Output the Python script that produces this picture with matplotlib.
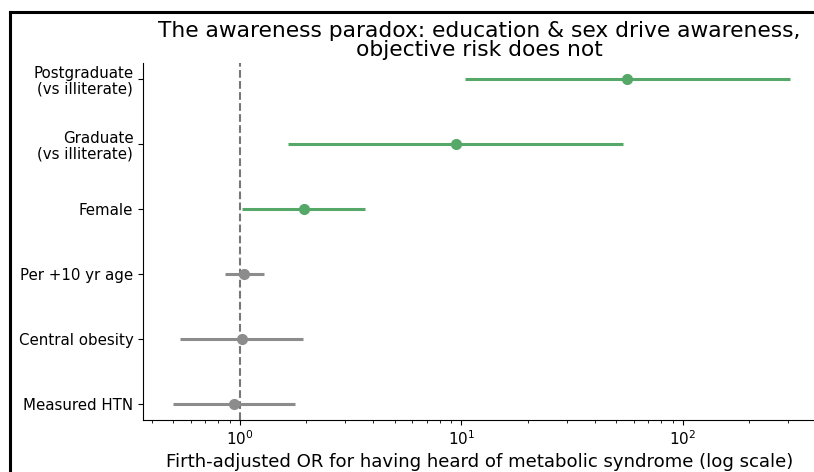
import matplotlib
matplotlib.use("Agg")
import matplotlib.pyplot as plt
from matplotlib.lines import Line2D
import numpy as np

labels = ["Postgraduate\n(vs illiterate)", "Graduate\n(vs illiterate)", "Female",
          "Per +10 yr age", "Central obesity", "Measured HTN"]
odds_ratio = [55.9, 9.45, 1.95, 1.05, 1.02, 0.94]
ci_low = [10.4, 1.65, 1.02, 0.856, 0.536, 0.50]
ci_high = [304, 54.0, 3.67, 1.28, 1.92, 1.77]
significant = [True, True, True, False, False, False]

GREEN = "#55a868"
GRAY = "#8c8c8c"

fig = plt.figure(figsize=(8.14, 4.72), dpi=100)
ax = fig.add_axes([143/814, 1 - 420/472, 1 - 143/814 + 0.002, (420 - 63)/472])

n = len(labels)
ypos = np.arange(n)[::-1]
for y, o, lo, hi, sig in zip(ypos, odds_ratio, ci_low, ci_high, significant):
    c = GREEN if sig else GRAY
    ax.plot([lo, hi], [y, y], color=c, lw=2.2, solid_capstyle="butt", zorder=2)
    ax.plot([o], [y], "o", color=c, ms=7, zorder=3)

ax.axvline(1, color="#777777", ls="--", lw=1.5, zorder=1)
ax.set_xscale("log")
ax.set_xlim(10 ** (-0.437), 10 ** 2.6)
ax.set_ylim(-0.25, n - 1 + 0.25)
ax.set_yticks(ypos)
ax.set_yticklabels(labels, fontsize=10.8, linespacing=1.1)
ax.tick_params(axis="x", labelsize=11)
ax.spines["top"].set_visible(False)
ax.spines["right"].set_visible(False)
ax.set_xlabel("Firth-adjusted OR for having heard of metabolic syndrome (log scale)", fontsize=13.1, labelpad=3)
ax.set_title("The awareness paradox: education & sex drive awareness,\nobjective risk does not",
             fontsize=15.7, pad=5, linespacing=0.96)

# black border frame visible at top and left of the reference
fig.add_artist(Line2D([9.5/814, 1], [1 - 12/472, 1 - 12/472], color="black", lw=2.2, transform=fig.transFigure))
fig.add_artist(Line2D([9.5/814, 9.5/814], [0, 1 - 12/472], color="black", lw=2.2, transform=fig.transFigure))

fig.savefig("out.png", dpi=100)
